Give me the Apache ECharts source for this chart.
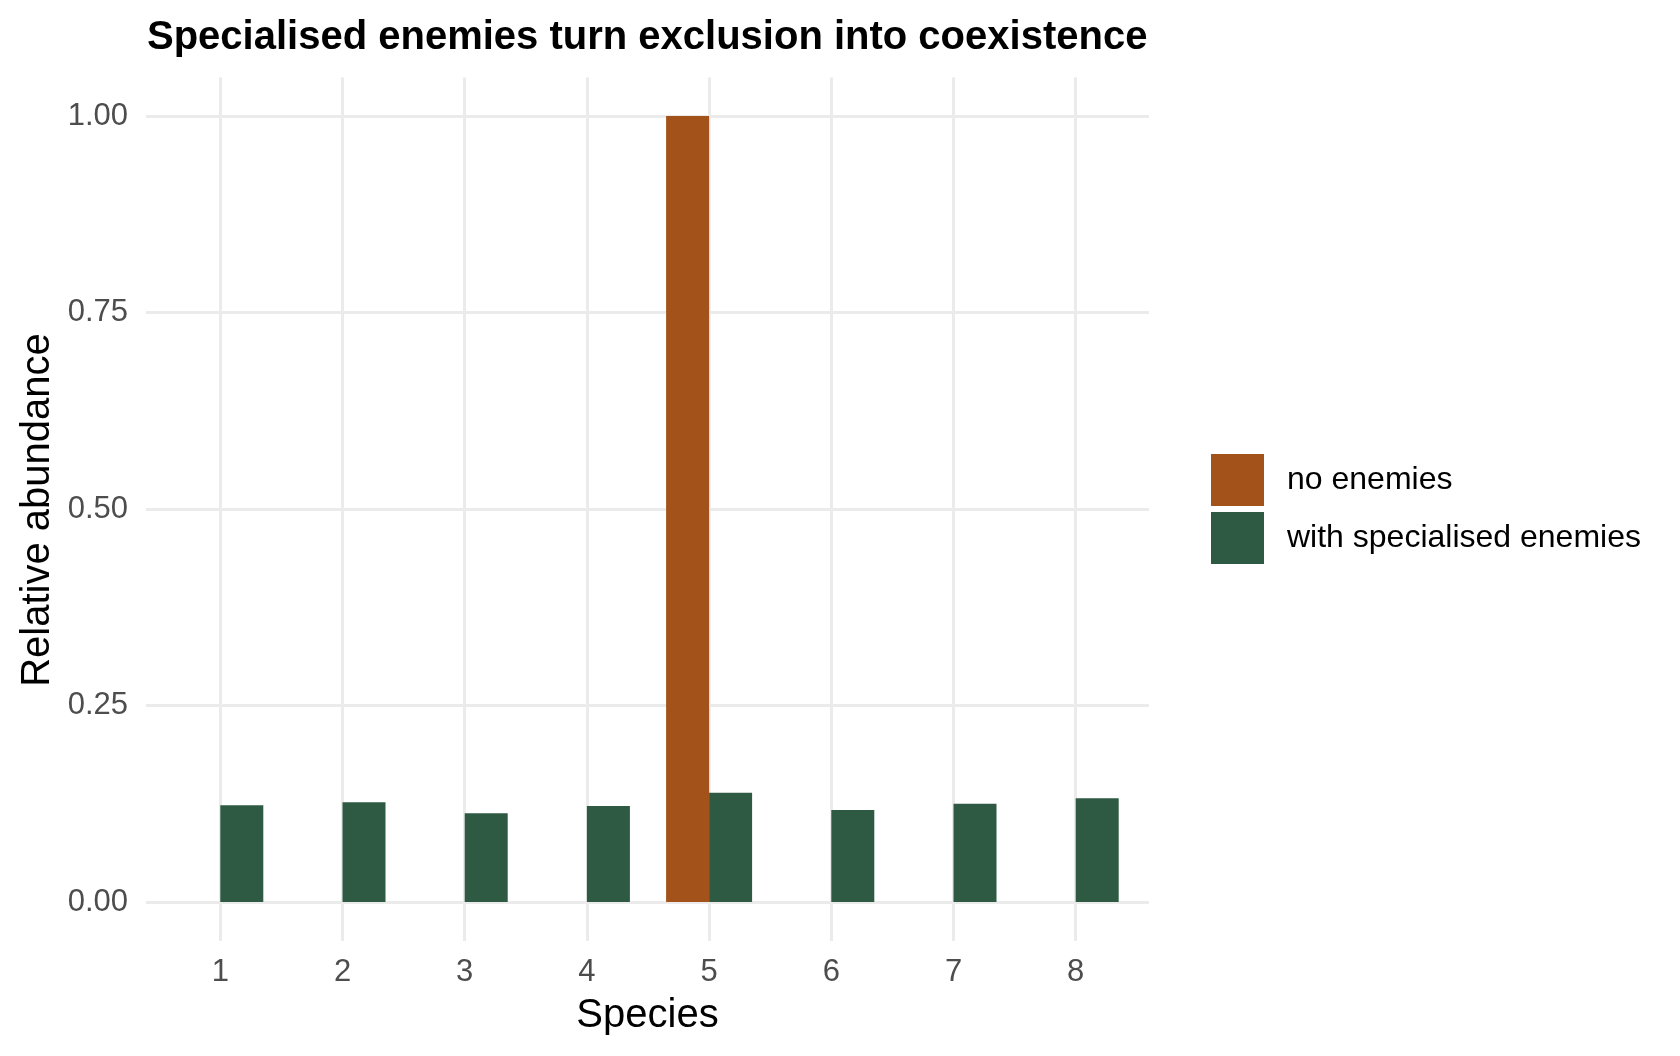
<!DOCTYPE html>
<html>
<head>
<meta charset="utf-8">
<script src="https://cdn.jsdelivr.net/npm/echarts@6/dist/echarts.min.js"></script>
<style>
  html, body { margin: 0; padding: 0; background: #fff; }
  #abundance-bar-chart { width: 1680px; height: 1056px; }
</style>
</head>
<body>
<div id="abundance-bar-chart"></div>
<script>
// data
var species = ['1', '2', '3', '4', '5', '6', '7', '8'];
var speciesNum = [1, 2, 3, 4, 5, 6, 7, 8];
var noEnemies = [0, 0, 0, 0, 1.0, 0, 0, 0];
var withEnemies = [0.123, 0.127, 0.113, 0.122, 0.139, 0.117, 0.125, 0.132];
var seriesNames = ['no enemies', 'with specialised enemies'];
var yTicks = [0, 0.25, 0.5, 0.75, 1];

var FONT = '"Liberation Sans", Arial, Helvetica, sans-serif';
var GRID_COLOR = '#EBEBEB';

var abundance_bar_chart = echarts.init(document.getElementById('abundance-bar-chart'));

abundance_bar_chart.setOption({
    animation: false,
    backgroundColor: '#ffffff',
    textStyle: { fontFamily: FONT },
    title: {
        text: 'Specialised enemies turn exclusion into coexistence',
        left: 147,
        top: 18,
        padding: 0,
        textStyle: { fontFamily: FONT, fontSize: 40, fontWeight: 'bold', color: '#000' }
    },
    legend: {
        data: seriesNames,
        orient: 'vertical',
        left: 1211,
        top: 454,
        padding: 0,
        itemWidth: 53,
        itemHeight: 52,
        itemGap: 6,
        icon: 'rect',
        textStyle: { fontFamily: FONT, fontSize: 32, color: '#000', padding: [6, 0, 0, 18] }
    },
    graphic: [
        {
            type: 'text',
            x: 37.5,
            y: 510,
            rotation: Math.PI / 2,
            style: {
                text: 'Relative abundance',
                font: '40px ' + FONT,
                fill: '#000',
                textAlign: 'center',
                textVerticalAlign: 'middle'
            }
        },
        {
            type: 'text',
            x: 647.5,
            y: 1016,
            style: {
                text: 'Species',
                font: '40px ' + FONT,
                fill: '#000',
                textAlign: 'center',
                textVerticalAlign: 'middle'
            }
        }
    ],
    grid: [
        // vertical grid lines + species labels
        { left: 220.3, top: 77.5, width: 855.4, height: 863.5 },
        // horizontal grid lines + value labels
        { left: 146, top: 116, width: 1003, height: 786 },
        // bars
        { left: 159.2, top: 116, width: 977.6, height: 786 }
    ],
    xAxis: [
        {
            gridIndex: 0,
            type: 'value',
            min: speciesNum[0],
            max: speciesNum[speciesNum.length - 1],
            interval: 1,
            axisLine: { show: false },
            axisTick: { show: false },
            splitLine: { show: true, lineStyle: { color: GRID_COLOR, width: 3 } },
            axisLabel: { color: '#4D4D4D', fontSize: 31, fontFamily: FONT, margin: 16 }
        },
        {
            gridIndex: 1,
            type: 'value',
            show: false
        },
        {
            gridIndex: 2,
            type: 'category',
            data: species,
            show: false
        }
    ],
    yAxis: [
        {
            gridIndex: 0,
            type: 'value',
            show: false
        },
        {
            gridIndex: 1,
            type: 'value',
            min: yTicks[0],
            max: yTicks[yTicks.length - 1],
            interval: 0.25,
            axisLine: { show: false },
            axisTick: { show: false },
            splitLine: { show: true, lineStyle: { color: GRID_COLOR, width: 3 } },
            axisLabel: {
                color: '#4D4D4D', fontSize: 31, fontFamily: FONT, margin: 18,
                formatter: function (v) { return v.toFixed(2); }
            }
        },
        {
            gridIndex: 2,
            type: 'value',
            min: 0,
            max: 1,
            show: false
        }
    ],
    series: [
        {
            name: seriesNames[0],
            type: 'bar',
            xAxisIndex: 2,
            yAxisIndex: 2,
            barWidth: 43,
            barGap: '0%',
            itemStyle: { color: '#A35219' },
            data: noEnemies
        },
        {
            name: seriesNames[1],
            type: 'bar',
            xAxisIndex: 2,
            yAxisIndex: 2,
            barWidth: 43,
            barGap: '0%',
            itemStyle: { color: '#2E5A43' },
            data: withEnemies
        }
    ]
});
</script>
</body>
</html>
